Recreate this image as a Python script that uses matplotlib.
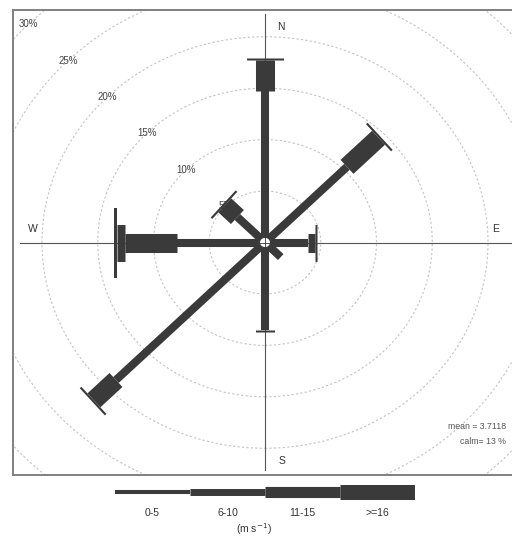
import numpy as np
import matplotlib
matplotlib.use('Agg')
import matplotlib.pyplot as plt
from matplotlib.patches import Circle

plt.rcParams['font.family'] = ['Liberation Sans', 'DejaVu Sans']

# wind directions (degrees from north) and frequency (%) per speed bin
directions = [0, 45, 90, 135, 180, 225, 270, 315]
freq_0_5 = [14.7, 10.4, 3.9, 2.0, 8.5, 18.9, 7.9, 3.5]
freq_6_10 = [3.0, 4.0, 0.6, 0.0, 0.2, 2.8, 4.7, 1.6]
freq_11_15 = [0.2, 0.2, 0.2, 0.0, 0.0, 0.2, 0.7, 0.2]
freq_16 = [0.0, 0.0, 0.0, 0.0, 0.0, 0.0, 0.2, 0.0]
speed_labels = ["0-5", "6-10", "11-15", ">=16"]
ring_levels = [5, 10, 15, 20, 25, 30]
mean_speed = 3.7118
calm_pct = 13

col = '#3a3a3a'
rose_widths = [5.8, 13.7, 26.6, 50.4]
key_widths = [2.9, 5.0, 8.0, 10.8]
lim = 22.6

fig = plt.figure(figsize=(5.12, 5.38), dpi=100)
# panel is wider than tall, so the rings come out slightly elliptical
ax = fig.add_axes([13 / 512, 63 / 538, 504 / 512, 465 / 538])
ax.set_xlim(-lim, lim)
ax.set_ylim(-lim, lim)
ax.set_xticks([])
ax.set_yticks([])
for sp in ax.spines.values():
    sp.set_color('#808080')
    sp.set_linewidth(1.4)

# grid rings
a_lab = np.radians(315)
for r in ring_levels:
    ax.add_patch(Circle((0, 0), r, fill=False, edgecolor='#c4c4c4',
                        linewidth=0.8, linestyle=(0, (2, 2))))
    ax.text(r * np.sin(a_lab), r * np.cos(a_lab), f"{r}%",
            fontsize=7, color='#444444', ha='center', va='center')

# axis lines
ax.plot([-22.0, lim], [0, 0], color='#555555', linewidth=0.8, zorder=1)
ax.plot([0, 0], [-22.1, 22.2], color='#555555', linewidth=0.8, zorder=1)

ax.text(1.43, 20.9, "N", fontsize=7.5, color='#333333', ha='center', va='center')
ax.text(1.5, -21.2, "S", fontsize=7.5, color='#333333', ha='center', va='center')
ax.text(-20.8, 1.36, "W", fontsize=7.5, color='#333333', ha='center', va='center')
ax.text(20.7, 1.36, "E", fontsize=7.5, color='#333333', ha='center', va='center')

# paddles
bins = [freq_0_5, freq_6_10, freq_11_15, freq_16]
for i, d in enumerate(directions):
    a = np.radians(d)
    start = 0.0
    for b, w in zip(bins, rose_widths):
        end = start + b[i]
        if b[i] > 0:
            ax.plot([start * np.sin(a), end * np.sin(a)],
                    [start * np.cos(a), end * np.cos(a)],
                    color=col, linewidth=w, solid_capstyle='butt', zorder=3)
        start = end

ax.add_patch(Circle((0, 0), 0.5, facecolor='white', edgecolor=col,
                    linewidth=0.8, zorder=4))
ax.plot([-0.5, 0.5], [0, 0], color=col, linewidth=0.6, zorder=5)
ax.plot([0, 0], [-0.5, 0.5], color=col, linewidth=0.6, zorder=5)

ax.text(21.6, -17.9, f"mean = {mean_speed}", fontsize=6.3, color='#555555',
        ha='right', va='center')
ax.text(21.6, -19.3, f"calm= {calm_pct} %", fontsize=6.3, color='#555555',
        ha='right', va='center')

# speed key
kax = fig.add_axes([115 / 512, 0, 300 / 512, 63 / 538])
kax.set_xlim(0, 4)
kax.set_ylim(0, 63)
kax.axis('off')
for j, (lab, w) in enumerate(zip(speed_labels, key_widths)):
    kax.plot([j, j + 1], [46, 46], color=col, linewidth=w, solid_capstyle='butt')
    kax.text(j + 0.5, 25, lab, fontsize=7.5, color='#333333', ha='center', va='center')
kax.text(1.85, 9, r"(m s$^{-1}$)", fontsize=7.5, color='#333333',
         ha='center', va='center')

fig.savefig("out.png", dpi=100)
